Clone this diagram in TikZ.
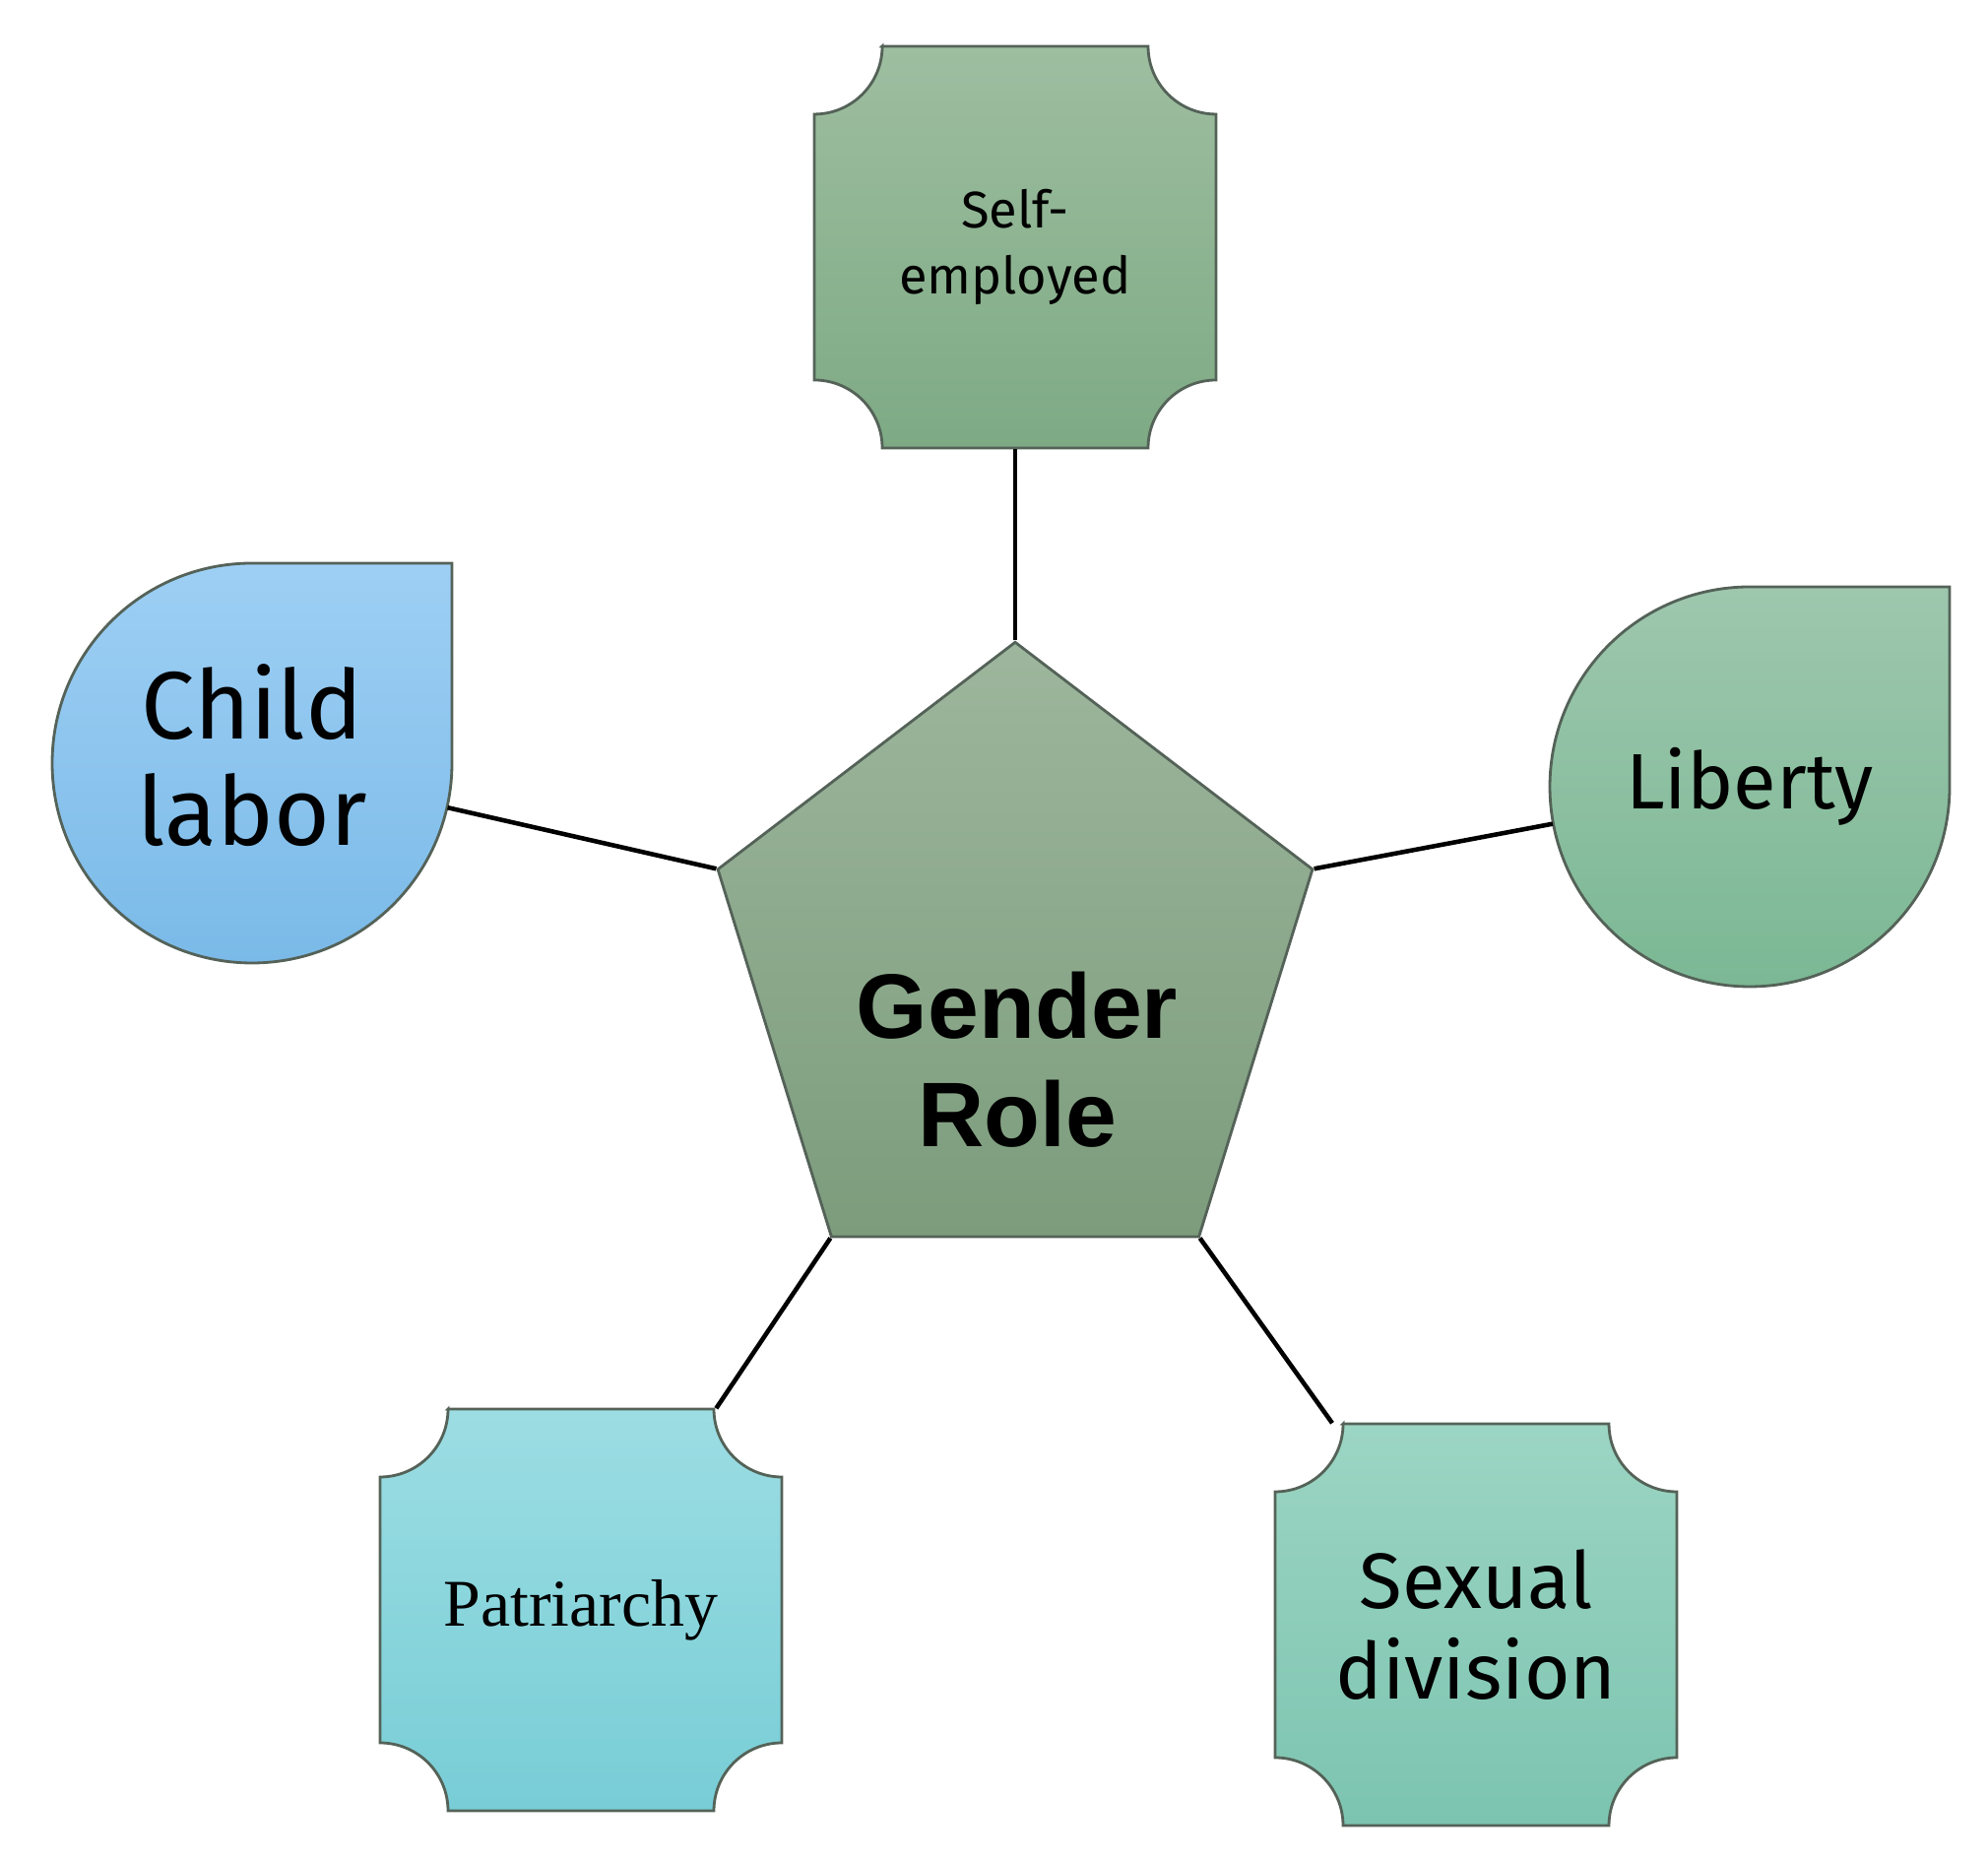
\documentclass[tikz,border=0pt]{standalone}
\usepackage{fontspec}
\setmainfont{Fira Sans}
\newfontfamily\arialfont{Liberation Sans}
\newfontfamily\timesfont{Liberation Serif}
\usepackage{tikz}
\usetikzlibrary{shapes.geometric}
\definecolor{edgecol}{RGB}{84,98,88}
\definecolor{pentop}{RGB}{157,182,157}
\definecolor{penbot}{RGB}{124,156,124}
\definecolor{selftop}{RGB}{158,190,160}
\definecolor{selfbot}{RGB}{125,170,132}
\definecolor{childtop}{RGB}{158,207,244}
\definecolor{childbot}{RGB}{122,186,232}
\definecolor{libtop}{RGB}{158,199,174}
\definecolor{libbot}{RGB}{123,184,148}
\definecolor{patop}{RGB}{156,221,227}
\definecolor{pabot}{RGB}{120,205,214}
\definecolor{sdtop}{RGB}{156,213,195}
\definecolor{sdbot}{RGB}{124,196,176}
\tikzset{
	shapeedge/.style={draw=edgecol,line width=0.8pt},
	notchstyle/.style={rectangle,minimum width=4.08cm,minimum height=4.08cm,align=center},
	dropstyle/.style={circle,minimum size=4.06cm,align=center},
	pentstyle/.style={regular polygon,regular polygon sides=5,minimum size=6.35cm,shapeedge,top color=pentop,bottom color=penbot},
	linkstyle/.style={line width=1.3pt,black}
}
% box with hollow corners: centre, top colour, bottom colour
\newcommand{\notchshape}[3]{%
	\draw[shapeedge,top color=#2,bottom color=#3,shift={(#1)}] (-1.35,2.04) -- (1.35,2.04)
		arc[start angle=180,end angle=270,radius=0.69] -- (2.04,-1.35)
		arc[start angle=90,end angle=180,radius=0.69] -- (-1.35,-2.04)
		arc[start angle=0,end angle=90,radius=0.69] -- (-2.04,1.35)
		arc[start angle=270,end angle=360,radius=0.69] -- cycle;}
% drop with a square top right corner
\newcommand{\dropshape}[3]{%
	\draw[shapeedge,top color=#2,bottom color=#3,shift={(#1)}] (0,2.03) -- (2.03,2.03) -- (2.03,0)
		arc[start angle=0,end angle=-270,radius=2.03] -- cycle;}

\begin{document}
\begin{tikzpicture}
		\useasboundingbox (0,0) rectangle (20.19,18.89);
		\notchshape{10.31,16.38}{selftop}{selfbot}
		\notchshape{5.90,2.54}{patop}{pabot}
		\notchshape{14.99,2.39}{sdtop}{sdbot}
		\dropshape{2.56,11.14}{childtop}{childbot}
		\dropshape{17.77,10.90}{libtop}{libbot}
		\node[pentstyle,yscale=1.051,transform shape] (gr) at (10.31,9.03) {};
		\node[align=center,font=\arialfont\bfseries\fontsize{26.5}{31.3}\selectfont] (grtext) at (10.33,8.13) {Gender\\Role};
		\node[notchstyle,font=\fontsize{14.9}{18.8}\selectfont] (self) at (10.31,16.38) {Self-\\employed};
		\node[notchstyle,font=\timesfont\fontsize{19.3}{23}\selectfont] (pa) at (5.90,2.54) {Patriarchy};
		\node[notchstyle,font=\fontsize{22.7}{26.2}\selectfont] (sd) at (14.99,2.39) {Sexual\\division};
		\node[dropstyle,font=\fontsize{27.7}{30.7}\selectfont,text depth=0.16cm] (cl) at (2.56,11.14) {Child\\labor};
		\node[dropstyle,font=\fontsize{22.7}{27}\selectfont] (lib) at (17.77,10.90) {Liberty};
		\draw[linkstyle] (gr.corner 1) -- (self);
		\draw[linkstyle] (gr.corner 2) -- (cl);
		\draw[linkstyle] (gr.corner 5) -- (lib);
		\draw[linkstyle] (gr.corner 3) -- (pa);
		\draw[linkstyle] (gr.corner 4) -- (sd);
		\end{tikzpicture}
\end{document}
